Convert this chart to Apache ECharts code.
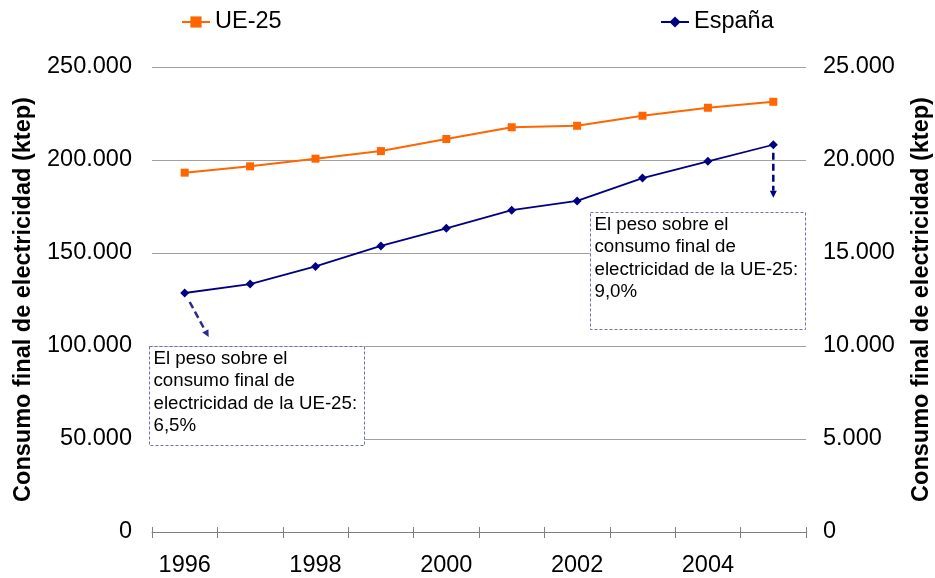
<!DOCTYPE html>
<html>
<head>
<meta charset="utf-8">
<script src="https://cdn.jsdelivr.net/npm/echarts@6/dist/echarts.min.js"></script>
<style>
  html, body { margin: 0; padding: 0; background: #fff; }
  #chart { width: 935px; height: 578px; }
</style>
</head>
<body>
<div id="chart"></div>
<script>
var years = ['1996', '1997', '1998', '1999', '2000', '2001', '2002', '2003', '2004', '2005']
var ue25 = [193200, 196600, 200700, 204800, 211300, 217600, 218400, 223800, 228100, 231300]
var espana = [12850, 13330, 14280, 15380, 16330, 17300, 17800, 19030, 19930, 20820]
var leftMax = 250000
var leftStep = 50000
var rightMax = 25000
var rightStep = 5000
var axisTitle = 'Consumo final de electricidad (ktep)'
var note1996 = ['El peso sobre el', 'consumo final de', 'electricidad de la UE-25:', '6,5%']
var note2005 = ['El peso sobre el', 'consumo final de', 'electricidad de la UE-25:', '9,0%']

var FONT = '"Liberation Sans", Arial, sans-serif'

function fmt(v) {
  return String(v).replace(/\B(?=(\d{3})+(?!\d))/g, '.')
}

var chart = echarts.init(document.getElementById('chart'))

var option = {
  backgroundColor: '#fff',
  animation: false,
  textStyle: { fontFamily: FONT },
  grid: { left: 152, right: 129, top: 67, bottom: 46, outerBoundsMode: 'none', containLabel: false },
  legend: [{
    data: ['UE-25'],
    left: 181,
    top: 10,
    padding: 0,
    itemWidth: 28,
    itemHeight: 14,
    textStyle: { fontSize: 23.5, color: '#000', fontFamily: FONT }
  }, {
    data: ['España'],
    left: 660,
    top: 10,
    padding: 0,
    itemWidth: 28,
    itemHeight: 14,
    textStyle: { fontSize: 23.5, color: '#000', fontFamily: FONT }
  }],
  xAxis: [{
    type: 'category',
    data: years,
    boundaryGap: true,
    axisLine: { show: true, lineStyle: { color: '#808080', width: 1 } },
    axisTick: { show: true, interval: 0, length: 6, lineStyle: { color: '#808080', width: 1 } },
    axisLabel: { interval: 1, fontSize: 23.5, color: '#000', margin: 22, fontFamily: FONT },
    splitLine: { show: false }
  }, {
    type: 'category',
    data: years,
    position: 'bottom',
    boundaryGap: true,
    axisLine: { show: false },
    axisTick: { show: true, interval: 0, inside: true, length: 5, lineStyle: { color: '#808080', width: 1 } },
    axisLabel: { show: false },
    splitLine: { show: false }
  }],
  yAxis: [{
    type: 'value',
    min: 0,
    max: leftMax,
    interval: leftStep,
    position: 'left',
    axisLine: { show: false },
    axisTick: { show: false },
    axisLabel: { fontSize: 23.5, color: '#000', margin: 20, formatter: fmt, fontFamily: FONT },
    splitLine: { lineStyle: { color: '#A0A0A0', width: 1 } },
    name: axisTitle,
    nameLocation: 'middle',
    nameRotate: 90,
    nameGap: 116,
    nameTextStyle: { fontSize: 23.5, fontWeight: 'bold', color: '#000', fontFamily: FONT }
  }, {
    type: 'value',
    min: 0,
    max: rightMax,
    interval: rightStep,
    position: 'right',
    axisLine: { show: false },
    axisTick: { show: false },
    axisLabel: { fontSize: 23.5, color: '#000', margin: 17, formatter: fmt, fontFamily: FONT },
    splitLine: { show: false },
    name: axisTitle,
    nameLocation: 'middle',
    nameRotate: 90,
    nameGap: 104,
    nameTextStyle: { fontSize: 23.5, fontWeight: 'bold', color: '#000', fontFamily: FONT }
  }],
  series: [{
    name: 'UE-25',
    type: 'line',
    xAxisIndex: 0,
    yAxisIndex: 0,
    data: ue25,
    symbol: 'rect',
    symbolSize: 8,
    color: '#FF6600',
    lineStyle: { color: '#FF6600', width: 2 },
    itemStyle: { color: '#FF6600' },
    z: 3
  }, {
    name: 'España',
    type: 'line',
    xAxisIndex: 0,
    yAxisIndex: 1,
    data: espana,
    symbol: 'diamond',
    symbolSize: 9,
    color: '#000080',
    lineStyle: { color: '#000080', width: 1.8 },
    itemStyle: { color: '#000080' },
    z: 4
  }]
}

chart.setOption(option)

// annotations: dashed arrows from the first and last España points to the note boxes
function arrow(from, dx1, dy1, dx2, dy2, color) {
  var a = [from[0] + dx1, from[1] + dy1]
  var b = [from[0] + dx2, from[1] + dy2]
  var len = Math.sqrt((b[0] - a[0]) * (b[0] - a[0]) + (b[1] - a[1]) * (b[1] - a[1]))
  var ux = (b[0] - a[0]) / len
  var uy = (b[1] - a[1]) / len
  var head = 7
  var base = [b[0] - ux * head, b[1] - uy * head]
  return [{
    type: 'line',
    z: 50,
    shape: { x1: a[0], y1: a[1], x2: base[0], y2: base[1] },
    style: { stroke: color, lineWidth: 2.5, lineDash: [7, 4] }
  }, {
    type: 'polygon',
    z: 50,
    shape: {
      points: [b, [base[0] - uy * 3.5, base[1] + ux * 3.5], [base[0] + uy * 3.5, base[1] - ux * 3.5]]
    },
    style: { fill: color }
  }]
}

function noteBox(x, y, w, h, lines, textTop) {
  return [{
    type: 'rect',
    z: 40,
    shape: { x: x, y: y, width: w, height: h },
    style: { fill: '#fff', stroke: '#6F6FB0', lineWidth: 1, lineDash: [3, 2] }
  }, {
    type: 'text',
    z: 41,
    x: x + 4,
    y: textTop,
    style: {
      text: lines.join('\n'),
      font: '18.7px ' + FONT,
      fill: '#000',
      lineHeight: 22.5,
      verticalAlign: 'top'
    }
  }]
}

var pFirst = chart.convertToPixel({ seriesIndex: 1 }, [0, espana[0]])
var pLast = chart.convertToPixel({ seriesIndex: 1 }, [years.length - 1, espana[espana.length - 1]])

var elements = []
  .concat(noteBox(149.5, 346.5, 215, 99, note1996, 347.5))
  .concat(noteBox(590.5, 212.5, 215, 117, note2005, 213.5))
  .concat(arrow(pFirst, 5, 9, 24, 44, '#2B2B8F'))
  .concat(arrow(pLast, 0, 8, 0, 53, '#000080'))

chart.setOption({ graphic: elements })
</script>
</body>
</html>
